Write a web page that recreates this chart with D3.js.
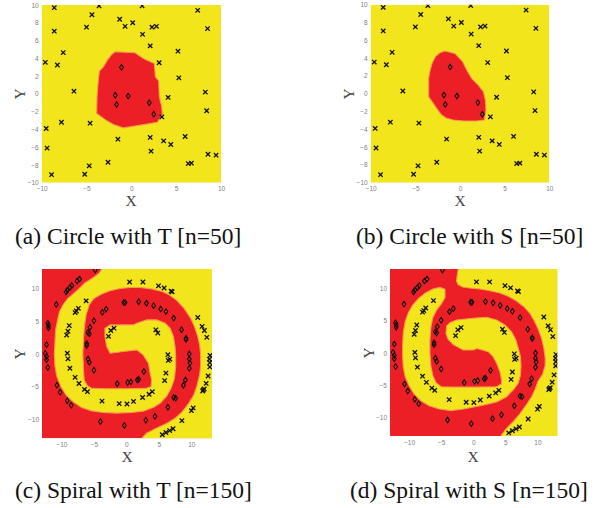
<!DOCTYPE html>
<html>
<head>
<meta charset="utf-8">
<script src="https://cdn.jsdelivr.net/npm/d3@7"></script>
<style>
  body { margin: 0; background: #fff; }
  svg { display: block; }
  .tick text { font-family: "Liberation Sans", Arial, sans-serif; font-size: 6.5px; fill: #808080; }
  .lab { font-family: "Liberation Serif", "Times New Roman", serif; fill: #444; }
  .cap { font-family: "Liberation Serif", "Times New Roman", serif; font-size: 23.5px; fill: #111; }
</style>
</head>
<body>
<div class="fig"></div>
<script>
// ---------- data ----------
// circle dataset (same points in a and b)
var circleCross = [
  [-8.6,9.7],[-3.6,9.9],[1.2,9.9],[7.4,9.4],[-4.4,8.9],[-1.3,8.4],[0.15,8.0],[-5.0,7.5],
  [-0.7,7.6],[2.3,7.5],[2.8,7.6],[-8.6,7.05],[8.5,7.35],[1.25,6.7],[-7.6,4.65],[5.2,4.8],
  [-9.6,3.55],[-8.25,3.25],[3.1,3.5],[2.1,5.4],[5.3,1.8],[-6.4,0.3],[8.25,0.2],[4.1,-0.4],
  [8.4,-1.9],[3.4,-2.6],[-7.8,-3.2],[-4.6,-3.3],[-9.5,-3.9],[6.0,-4.8],[-1.5,-5.1],[2.1,-4.9],
  [3.6,-5.3],[4.4,-5.7],[-9.4,-6.1],[2.2,-6.45],[8.55,-6.8],[9.45,-6.9],[-2.6,-7.7],[-4.7,-8.1],
  [6.35,-7.85],[6.7,-7.8],[-8.9,-9.1],[-5.2,-9.05]
];
var circleDiamond = [[-1.1,3.0],[-1.8,-0.15],[-0.35,-0.25],[-1.65,-1.2],[2.0,-1.0],[2.5,-2.3]];

// red decision region outlines
var circleRedT = [
  [-1.82,4.73],[0.41,4.62],[1.34,3.98],[2.56,3.41],[2.68,1.91],[3.05,1.46],[3.12,-0.34],
  [3.38,-1.39],[3.46,-2.29],[2.9,-3.19],[1.71,-3.41],[0.22,-3.64],[-0.89,-3.83],[-1.93,-3.49],
  [-2.83,-2.96],[-3.87,-2.21],[-3.83,-0.34],[-3.72,1.16],[-3.57,2.55],[-3.12,3.04],[-2.68,3.79],[-2.23,4.39]
];
var circleRedS = [
  [-1.68,4.79],[-0.56,4.53],[0.30,3.6],[0.75,2.66],[1.31,1.72],[2.05,0.97],[2.61,0.22],
  [2.84,-0.71],[2.91,-1.84],[2.72,-2.96],[1.87,-3.07],[0.37,-3.07],[-0.75,-2.96],[-1.57,-2.73],
  [-2.13,-2.32],[-2.69,-1.54],[-3.25,-0.71],[-3.51,-0.34],[-3.51,1.72],[-3.36,2.58],[-3.13,3.41],
  [-2.76,4.16],[-2.24,4.61]
];

// spiral dataset (same points in c and d)
var spiralCross = [
  [0.5,11.05],[2.55,11.05],[4.95,10.47],[5.82,10.13],[6.9,9.65],[7.05,9.55],
  [11.0,5.6],[11.67,4.22],[12.03,3.6],[12.4,2.55],
  [12.9,-0.24],[12.8,-0.8],[12.86,-1.35],[12.86,-2.0],[12.6,-3.4],[12.3,-4.53],[12.0,-5.38],[11.85,-5.55],[11.77,-5.7],
  [10.3,-8.3],[10.03,-8.73],[8.56,-10.26],[7.2,-11.5],[6.67,-11.78],[6.1,-12.08],[5.53,-12.42],
  [-6.2,8.15],[-7.4,7.0],[-7.7,6.6],[-7.9,6.35],
  [-8.8,4.35],[-9.0,3.5],[-9.2,2.9],
  [-9.1,0.1],[-9.0,-0.75],[-8.7,-2.2],
  [-7.9,-3.6],[-7.3,-4.55],[-6.45,-5.45],[-6.0,-5.8],
  [-3.75,-7.25],[-1.1,-7.65],[0.1,-7.7],[1.1,-7.3],[2.5,-6.7],[3.5,-6.2],[4.0,-5.8],
  [5.9,-4.1],[6.1,-2.95],[6.45,-1.0],[6.7,-0.8],[6.4,-0.12],
  [4.55,3.7],[4.85,3.2],
  [-1.9,3.95],[-2.4,3.6],[-2.75,2.7]
];
var spiralDiamond = [
  [-4.8,12.9],
  [-7.2,11.5],[-7.6,11.2],[-8.4,10.5],[-8.7,10.2],[-9.1,9.8],[-9.3,9.5],
  [-10.8,7.6],
  [-12.1,4.7],[-12.0,4.4],[-12.0,4.0],
  [-12.3,1.4],
  [-12.5,0.1],[-12.3,-0.4],[-12.3,-0.9],[-12.1,-2.1],
  [-10.7,-4.8],[-10.2,-5.9],[-9.1,-7.2],[-8.5,-7.9],
  [-4.0,-10.4],[-0.3,-11.0],[3.0,-10.2],[4.4,-9.6],[6.4,-8.2],
  [7.3,-6.7],[7.6,-6.8],[8.8,-4.8],[9.1,-4.0],
  [9.7,-2.2],[9.8,-1.4],[9.7,-0.8],[9.7,0.0],
  [9.2,2.2],[9.2,2.4],[8.5,3.7],[7.3,5.5],[6.1,6.5],[5.3,6.9],[4.2,7.4],[3.1,7.8],[1.9,8.0],[-0.2,7.9],[-0.4,7.9],
  [-3.1,6.9],[-3.7,6.4],[-5.0,5.1],[-5.6,4.1],[-5.9,3.3],[-5.7,3.1],[-6.1,1.6],[-6.1,1.3],[-5.9,-0.8],[-5.7,-1.3],[-5.0,-2.5],
  [-1.4,-4.6],[0.2,-4.4],[0.7,-4.3],[1.7,-4.0],[1.9,-3.9],[2.7,-2.7]
];

// yellow decision regions on red ground
var spiralYellowT = [[
  [-2.5,0.1],[-0.46,0.36],[1.6,0.62],[2.6,-0.15],[3.4,-1.43],[3.66,-2.97],[3.9,-4.0],[3.8,-5.0],
  [3.0,-5.3],[0,-5.35],[-3,-5.35],[-5.3,-5.3],[-6.0,-4.9],[-6.5,-4.0],[-6.6,-2.5],[-6.7,0],
  [-6.6,2.5],[-6.4,4.7],[-6.2,6.0],[-5.7,7.6],[-5.0,8.5],[-3.8,9.2],[-2.5,9.7],[-1,10.05],
  [0.6,10.2],[2.1,10.2],[3.9,10.0],[5.5,9.6],[6.6,9.1],[7.8,8.2],[8.9,7.0],[9.9,5.5],[10.5,4.2],
  [11.0,2.7],[11.3,1.4],[11.45,-0.15],[11.45,-1.7],[11.3,-3.2],[10.9,-4.8],[10.4,-6.3],[9.6,-7.6],
  [8.6,-8.9],[7.5,-9.9],[6.2,-10.7],[4.7,-11.4],[3.1,-12.2],[1.9,-13.5],
  [14,-13.5],[14,14],[-3.8,14],
  [-3.8,13.05],[-4.2,12.4],[-4.85,11.9],[-5.6,11.4],[-6.4,10.9],[-7.2,10.1],[-8.1,9.3],[-9.0,8.55],
  [-9.75,7.55],[-10.3,6.5],[-10.6,5.2],[-10.9,3.7],[-11.0,1.9],[-11.1,-0.15],[-11.0,-1.95],[-10.7,-3.5],
  [-10.1,-5.0],[-9.3,-6.3],[-8.3,-7.3],[-6.9,-8.25],[-5.35,-8.75],[-3.55,-9.0],[-1.5,-9.1],[0.8,-9.0],
  [2.6,-8.8],[4.2,-8.2],[5.3,-7.5],[6.2,-6.5],[6.9,-5.3],[7.4,-3.8],[7.6,-2.0],[7.6,-0.2],[7.5,1.13],
  [7.26,2.67],[6.75,3.95],[5.98,4.72],[4.7,5.23],[3.15,5.23],[1.6,4.7],[1.08,4.46],[-0.46,4.46],
  [-2.5,4.46],[-3.3,3.95],[-3.3,2.67],[-3.03,1.13]
]];
var spiralYellowS = [[
  [-2.34,14],[-2.34,13.06],[-2.49,12.12],[-2.6,11.19],[-2.39,10.67],[-1.66,10.26],[-0.52,10.1],
  [1.04,9.95],[2.6,9.69],[4.16,9.33],[5.45,8.81],[6.75,8.08],[7.9,7.2],[8.83,6.17],[9.5,5.03],
  [10.13,3.73],[10.65,2.28],[11.01,0.73],[11.22,-0.83],[11.2,-2.0],[10.8,-3.3],[10.1,-4.4],
  [9.7,-5.5],[9.1,-6.8],[8.3,-8.0],[7.3,-9.4],[6.2,-10.7],[5.2,-11.7],[4.4,-12.75],[4.3,-13.5],
  [14,-13.5],[14,14]
], [
  [-4.4,9.9],[-5.2,10.2],[-6.3,9.95],[-7.5,9.3],[-8.5,8.5],[-9.4,7.5],[-10.1,6.3],[-10.6,4.9],
  [-10.9,3.2],[-11.0,1.3],[-11.0,-0.5],[-10.9,-2.2],[-10.6,-3.7],[-10.0,-5.1],[-9.2,-6.4],[-8.2,-7.4],
  [-6.9,-8.2],[-5.3,-8.7],[-3.5,-8.95],[-1.5,-8.7],[0.5,-8.3],[1.56,-8.1],[3.65,-7.6],[5.2,-6.8],
  [6.23,-5.75],[7.0,-4.7],[7.35,-3.5],[7.45,-2.0],[7.35,-0.5],[7.0,0.8],[6.65,2.02],[5.98,3.31],
  [4.94,4.35],[3.65,5.13],[2.08,5.55],[0,5.4],[-2.59,5.13],[-3.63,4.71],[-4.15,4.2],[-4.25,3.0],
  [-3.9,2.1],[-3.1,1.3],
  [-1.56,0.47],[0,0.47],[0.6,0.7],[2.34,0.2],[3.1,-0.57],[3.65,-1.6],[4.16,-2.9],[4.42,-4.2],
  [4.4,-4.8],[3.6,-5.25],[0,-5.3],[-3,-5.3],[-5.0,-5.25],[-5.8,-4.6],[-6.3,-3.5],[-6.6,-2.0],
  [-6.75,0],[-6.75,2.0],[-6.6,4.0],[-6.3,5.5],[-5.7,6.7],[-5.0,7.6],[-4.4,8.6]
]];

var circleXTicks = [-10, -5, 0, 5, 10];
var circleYTicks = [-10, -8, -6, -4, -2, 0, 2, 4, 6, 8, 10];
var spiralTicks = [-10, -5, 0, 5, 10];
var captions = ["(a) Circle with T [n=50]", "(b) Circle with S [n=50]",
                "(c) Spiral with T [n=150]", "(d) Spiral with S [n=150]"];

// ---------- drawing ----------
var YELLOW = "#f2e51c", RED = "#ec1f26", EDGE = "#f39a4c";

var svg = d3.select(".fig").append("svg")
  .attr("width", 595).attr("height", 508);

var panels = [
  {box:[41.7, 5, 179.3, 177.7], xd:[-10,10], yd:[-10,10], xt:circleXTicks, yt:circleYTicks,
   ground:YELLOW, fill:RED, regions:[circleRedT], cross:circleCross, diam:circleDiamond,
   ylab:[25, 94], xlab:[131, 206], cap:[15, 244]},
  {box:[370.7, 4.7, 178.6, 178], xd:[-10,10], yd:[-10,10], xt:circleXTicks, yt:circleYTicks,
   ground:YELLOW, fill:RED, regions:[circleRedS], cross:circleCross, diam:circleDiamond,
   ylab:[354, 94], xlab:[460, 206], cap:[356, 244]},
  {box:[42, 269, 170, 169.3], xd:[-13,13.2], yd:[-12.97,13.05], xt:spiralTicks, yt:spiralTicks,
   ground:RED, fill:YELLOW, regions:spiralYellowT, cross:spiralCross, diam:spiralDiamond,
   ylab:[25, 354], xlab:[127, 462], cap:[15, 498]},
  {box:[390, 269, 167.3, 167], xd:[-12.97,13.1], yd:[-12.9,13.06], xt:spiralTicks, yt:spiralTicks,
   ground:RED, fill:YELLOW, regions:spiralYellowS, cross:spiralCross, diam:spiralDiamond,
   ylab:[374, 353], xlab:[473, 462], cap:[350, 498]}
];

panels.forEach(function(p, i) {
  var L = p.box[0], T = p.box[1], W = p.box[2], H = p.box[3];
  var x = d3.scaleLinear().domain(p.xd).range([0, W]);
  var y = d3.scaleLinear().domain(p.yd).range([H, 0]);
  var g = svg.append("g").attr("transform", "translate(" + L + "," + T + ")");

  var clipId = "clip" + i;
  g.append("clipPath").attr("id", clipId)
    .append("rect").attr("width", W).attr("height", H);

  var plot = g.append("g").attr("clip-path", "url(#" + clipId + ")");
  plot.append("rect").attr("width", W).attr("height", H).attr("fill", p.ground);

  var line = d3.line().x(function(d) { return x(d[0]); })
                      .y(function(d) { return y(d[1]); })
                      .curve(d3.curveLinearClosed);
  plot.selectAll("path.region").data(p.regions).enter().append("path")
    .attr("class", "region")
    .attr("d", line)
    .attr("fill", p.fill)
    .attr("stroke", EDGE).attr("stroke-width", 1.1);

  plot.selectAll("path.cross").data(p.cross).enter().append("path")
    .attr("class", "cross")
    .attr("transform", function(d) { return "translate(" + x(d[0]) + "," + y(d[1]) + ")"; })
    .attr("d", "M-2.2,-2.2L2.2,2.2M-2.2,2.2L2.2,-2.2")
    .attr("stroke", "#111").attr("stroke-width", 1.3).attr("fill", "none");

  plot.selectAll("path.diam").data(p.diam).enter().append("path")
    .attr("class", "diam")
    .attr("transform", function(d) { return "translate(" + x(d[0]) + "," + y(d[1]) + ")"; })
    .attr("d", "M0,-2.8L1.9,0L0,2.8L-1.9,0Z")
    .attr("stroke", "#111").attr("stroke-width", 1.05).attr("fill", "none");

  // axes
  var ax = g.append("g").attr("transform", "translate(0," + H + ")")
    .call(d3.axisBottom(x).tickValues(p.xt).tickSize(0).tickPadding(4));
  var ay = g.append("g")
    .call(d3.axisLeft(y).tickValues(p.yt).tickSize(0).tickPadding(3));
  ax.select(".domain").remove();
  ay.select(".domain").remove();

  // axis titles
  svg.append("text").attr("class", "lab")
    .attr("font-size", 15.5)
    .attr("text-anchor", "middle")
    .attr("transform", "translate(" + p.ylab[0] + "," + p.ylab[1] + ") rotate(-90)")
    .text("Y");
  svg.append("text").attr("class", "lab")
    .attr("font-size", 15.5)
    .attr("text-anchor", "middle")
    .attr("x", p.xlab[0]).attr("y", p.xlab[1])
    .text("X");

  svg.append("text").attr("class", "cap")
    .attr("x", p.cap[0]).attr("y", p.cap[1])
    .text(captions[i]);
});
</script>
</body>
</html>
